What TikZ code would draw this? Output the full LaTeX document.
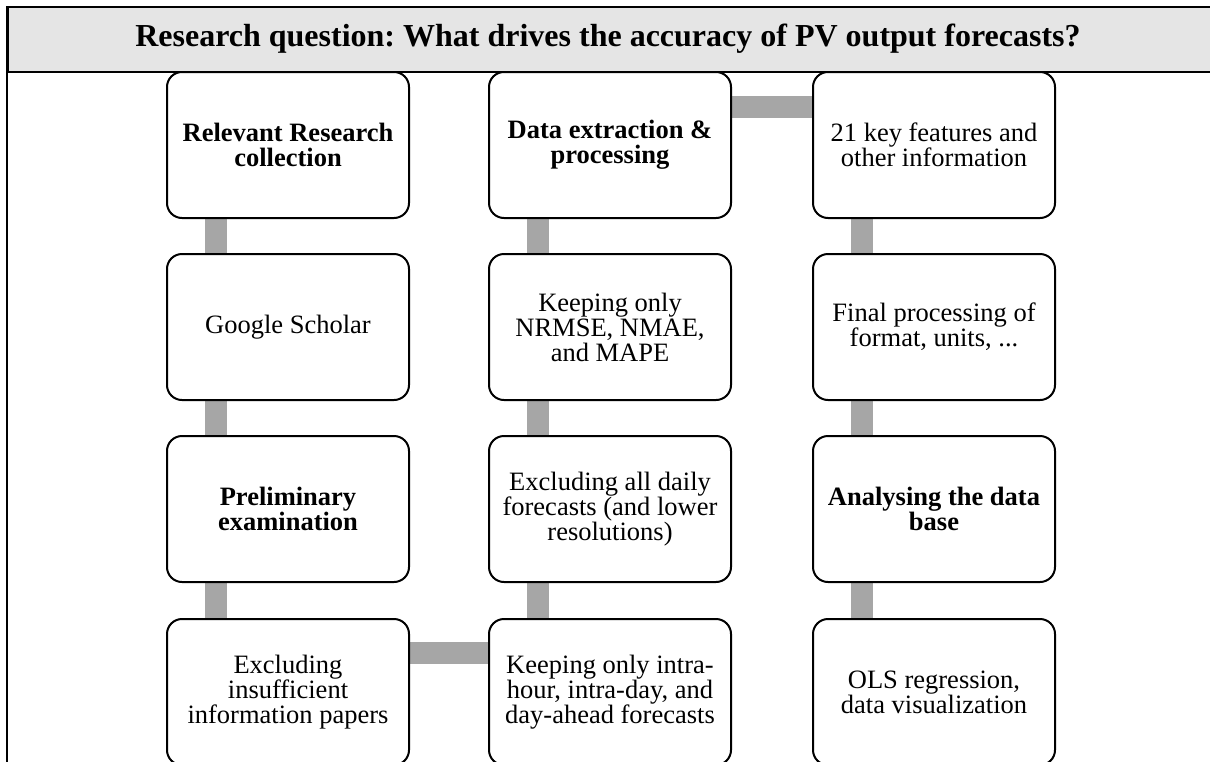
\documentclass[tikz,border=0pt]{standalone}
\usepackage{fontspec}
\setmainfont{Liberation Serif}
\usetikzlibrary{backgrounds}
\begin{document}
\frenchspacing
\begin{tikzpicture}[x=1pt,y=-1pt,
  box/.style={draw=black, line width=2pt, rounded corners=15pt, fill=white,
    minimum width=242pt, minimum height=146pt, anchor=north west, align=center,
    inner sep=0pt, font=\fontsize{26.5}{25}\selectfont},
  bbox/.style={box, font=\fontsize{26.5}{25}\selectfont\bfseries},
  conn/.style={draw=black!35, line width=22pt},
  headbox/.style={draw=black, line width=2pt, fill=black!10, anchor=north west,
    minimum width=1220pt, minimum height=65pt, inner sep=0pt},
  headtext/.style={font=\fontsize{32}{34}\selectfont\bfseries, inner sep=0pt}
]
\useasboundingbox (0,0) rectangle (1210,761);
\clip (0,0) rectangle (1210,761);

% header band and left border
\node[headbox] (head) at (7,6) {};
\coordinate (lb) at (7,780);
\draw[line width=2pt] (head.north west) -- (lb);
\node[headtext] (title) at (608,39) {Research question: What drives the accuracy of PV output forecasts?};

% boxes: columns at x=166, 488, 812; rows at y=71, 253, 435, 618
\path
  (166,71)  node[bbox] (b11) {Relevant Research\\collection}
  (488,71)  node[bbox] (b12) {Data extraction \&\\processing}
  (812,71)  node[box]  (b13) {21 key features and\\other information}
  (166,253) node[box]  (b21) {Google Scholar}
  (488,253) node[box]  (b22) {Keeping only\\NRMSE, NMAE,\\and MAPE}
  (812,253) node[box]  (b23) {Final processing of\\format, units, ...}
  (166,435) node[bbox] (b31) {Preliminary\\examination}
  (488,435) node[box]  (b32) {Excluding all daily\\forecasts (and lower\\resolutions)}
  (812,435) node[bbox] (b33) {Analysing the data\\base}
  (166,618) node[box]  (b41) {Excluding\\insufficient\\information papers}
  (488,618) node[box]  (b42) {Keeping only intra-\\hour, intra-day, and\\day-ahead forecasts}
  (812,618) node[box]  (b43) {OLS regression,\\data visualization};

% connectors, behind the boxes
\begin{scope}[on background layer]
\fill[white] (0,0) rectangle (1210,761);
\foreach \c in {1,2,3}{
  \foreach \r/\s in {1/2,2/3,3/4}{
    \draw[conn] ([xshift=50pt]b\r\c.south west) -- ([xshift=50pt]b\s\c.north west);
  }
}
\draw[conn] ([yshift=-35pt]b41.north east) -- ([yshift=-35pt]b42.north west);
\draw[conn] ([yshift=-36pt]b12.north east) -- ([yshift=-36pt]b13.north west);
\end{scope}
\end{tikzpicture}
\end{document}
